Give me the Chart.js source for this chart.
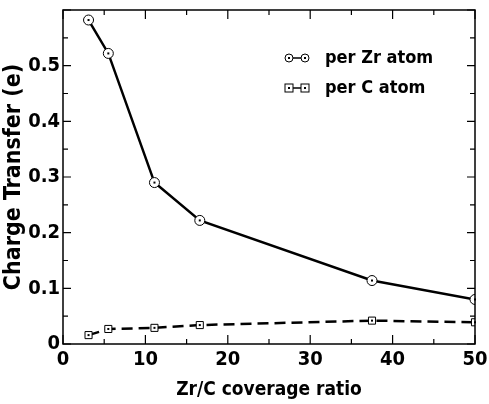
<!DOCTYPE html>
<html><head><meta charset="utf-8">
<script src="https://cdn.jsdelivr.net/npm/chart.js@4"></script>
<style>html,body{margin:0;padding:0;background:#fff}#c{display:block}</style>
</head><body>
<canvas id="c" width="489" height="404"></canvas>
<script>
const coverage = [3.1, 5.5, 11.1, 16.6, 37.5, 50];
const perZr = [0.582, 0.522, 0.290, 0.222, 0.114, 0.080];
const perC = [0.016, 0.027, 0.029, 0.034, 0.042, 0.039];
const xTicks = [0, 10, 20, 30, 40, 50];
const yTicks = [0, 0.1, 0.2, 0.3, 0.4, 0.5];
const seriesNames = ['per Zr atom', 'per C atom'];
const xTitle = 'Zr/C coverage ratio';
const yTitle = 'Charge Transfer (e)';

const FONT = '"DejaVu Sans Condensed", "DejaVu Sans", sans-serif';

const framePlugin = {
  id: 'frame',
  afterDatasetsDraw(chart) {
    const {ctx, chartArea: a, scales: {x, y}} = chart;
    ctx.save();
    ctx.strokeStyle = '#000';
    ctx.lineWidth = 1.5;
    ctx.strokeRect(a.left, a.top, a.right - a.left, a.bottom - a.top);
    ctx.lineWidth = 1.2;
    ctx.beginPath();
    for (let v = 0; v <= 50; v += 5) {
      const px = x.getPixelForValue(v);
      const L = v % 10 === 0 ? 9 : 5;
      ctx.moveTo(px, a.bottom); ctx.lineTo(px, a.bottom - L);
      ctx.moveTo(px, a.top); ctx.lineTo(px, a.top + L);
    }
    for (let i = 0; i <= 12; i++) {
      const v = i * 0.05;
      const py = y.getPixelForValue(v);
      const L = i % 2 === 0 ? 8 : 5;
      ctx.moveTo(a.left, py); ctx.lineTo(a.left + L, py);
      ctx.moveTo(a.right, py); ctx.lineTo(a.right - L, py);
    }
    ctx.stroke();
    chart.data.datasets.forEach((ds, i) => {
      chart.getDatasetMeta(i).data.forEach(pt => {
        ctx.fillStyle = '#000';
        ctx.fillRect(pt.x - 1, pt.y - 1, 2, 2);
      });
    });
    const rows = [{y: 58, style: 'circle'}, {y: 88, style: 'rect'}];
    rows.forEach((r, i) => {
      const x0 = 289, x1 = 305;
      ctx.lineWidth = 1.5;
      ctx.beginPath(); ctx.moveTo(x0, r.y); ctx.lineTo(x1, r.y); ctx.stroke();
      [x0, x1].forEach(cx => {
        ctx.fillStyle = '#fff';
        ctx.lineWidth = 1;
        if (r.style === 'circle') {
          ctx.beginPath(); ctx.arc(cx, r.y, 4, 0, Math.PI * 2); ctx.fill(); ctx.stroke();
        } else {
          ctx.fillRect(cx - 4, r.y - 4, 8, 8); ctx.strokeRect(cx - 4, r.y - 4, 8, 8);
        }
        ctx.fillStyle = '#000';
        ctx.fillRect(cx - 1, r.y - 1, 2, 2);
      });
      ctx.fillStyle = '#000';
      ctx.font = 'bold 18px ' + FONT;
      ctx.textBaseline = 'middle';
      ctx.textAlign = 'left';
      ctx.fillText(seriesNames[i], 325, r.y);
    });
    ctx.restore();
  }
};

new Chart(document.getElementById('c'), {
  type: 'line',
  data: {
    datasets: [
      {
        label: seriesNames[0],
        data: coverage.map((c, i) => ({x: c, y: perZr[i]})),
        borderColor: '#000', borderWidth: 2.5,
        pointStyle: 'circle', pointRadius: 5, pointBorderWidth: 1,
        pointBackgroundColor: '#fff', pointBorderColor: '#000',
        tension: 0, fill: false
      },
      {
        label: seriesNames[1],
        data: coverage.map((c, i) => ({x: c, y: perC[i]})),
        borderColor: '#000', borderWidth: 2.5, borderDash: [11, 6],
        pointStyle: 'rect', pointRadius: 5, pointBorderWidth: 1,
        pointBackgroundColor: '#fff', pointBorderColor: '#000',
        tension: 0, fill: false
      }
    ]
  },
  options: {
    responsive: false,
    animation: false,
    devicePixelRatio: 1,
    layout: {padding: {top: 10, right: 14, left: 0, bottom: 0}},
    plugins: {legend: {display: false}, tooltip: {enabled: false}},
    scales: {
      x: {
        type: 'linear', min: 0, max: 50,
        afterBuildTicks: s => { s.ticks = xTicks.map(v => ({value: v})); },
        afterFit: s => { s.height = 60; s.paddingLeft = 0; s.paddingRight = 0; },
        grid: {display: false, drawTicks: false},
        border: {display: false},
        ticks: {color: '#000', font: {family: FONT, size: 20, weight: 'bold'}, padding: 4, maxRotation: 0,
          callback: v => String(v)},
        title: {display: true, text: xTitle, color: '#000', font: {family: FONT, size: 19, weight: 'bold'}, padding: {top: 0, bottom: 3}}
      },
      y: {
        type: 'linear', min: 0, max: 0.6,
        afterBuildTicks: s => { s.ticks = yTicks.map(v => ({value: v})); },
        afterFit: s => { s.width = 63; s.paddingTop = 0; s.paddingBottom = 0; },
        grid: {display: false, drawTicks: false},
        border: {display: false},
        ticks: {color: '#000', font: {family: FONT, size: 20, weight: 'bold'}, padding: 3,
          callback: v => v === 0 ? '0' : v.toFixed(1)},
        title: {display: true, text: yTitle, color: '#000', font: {family: FONT, size: 23, weight: 'bold'}, padding: {top: 0, bottom: 0}}
      }
    }
  },
  plugins: [framePlugin]
});
</script>
</body></html>
